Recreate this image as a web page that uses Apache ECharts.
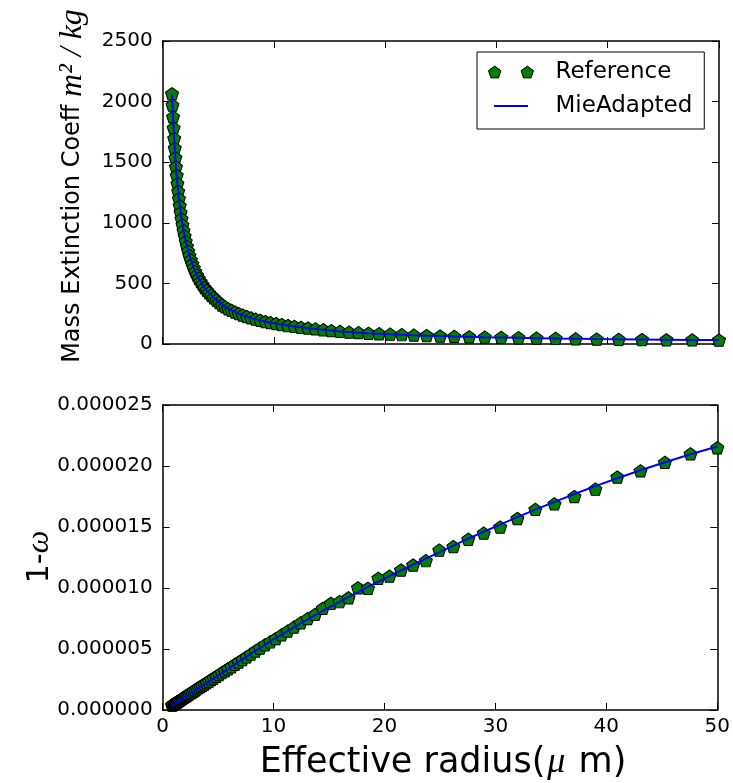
<!DOCTYPE html>
<html>
<head>
<meta charset="utf-8">
<script src="https://cdn.jsdelivr.net/npm/echarts@6/dist/echarts.min.js"></script>
<style>
  html, body { margin: 0; padding: 0; background: #fff; }
  #chart { width: 733px; height: 783px; }
</style>
</head>
<body>
<div id="chart"></div>
<script>
// effective radius (micron), shared by both panels
var radius = [0.85, 0.89, 0.94, 0.99, 1.04, 1.09, 1.15, 1.20, 1.27, 1.33,
    1.40, 1.47, 1.54, 1.62, 1.70, 1.79, 1.88, 1.98, 2.08, 2.19,
    2.30, 2.41, 2.54, 2.67, 2.80, 2.94, 3.09, 3.25, 3.42, 3.59,
    3.77, 3.97, 4.17, 4.38, 4.60, 4.84, 5.09, 5.34, 5.62, 5.90,
    6.20, 6.52, 6.85, 7.20, 7.57, 7.95, 8.36, 8.78, 9.23, 9.70,
    10.20, 10.72, 11.26, 11.84, 12.44, 13.07, 13.74, 14.44, 15.17, 15.95,
    16.76, 17.61, 18.51, 19.45, 20.45, 21.49, 22.58, 23.73, 24.94, 26.21,
    27.55, 28.95, 30.43, 31.98, 33.60, 35.32, 37.12, 39.01, 40.99, 43.08,
    45.28, 47.59, 50.00];

// mass extinction coeff (m2/kg)
var refExt = [2065, 1971, 1874, 1783, 1697, 1615, 1537, 1462, 1391, 1324,
    1260, 1199, 1141, 1085, 1033, 983, 935, 890, 847, 805,
    767, 729, 694, 660, 628, 598, 569, 541, 515, 490,
    466, 444, 422, 402, 382, 362, 342, 322, 306, 291,
    277, 264, 251, 239, 227, 216, 206, 196, 186, 177,
    169, 161, 153, 145, 138, 132, 125, 118, 111, 104,
    98, 94, 89, 85, 81, 77, 73, 70, 66, 63,
    60, 57, 55, 52, 49, 46, 43, 41, 39, 37,
    35, 34, 33];
var mieExt = [2060, 1968, 1872, 1781, 1695, 1613, 1535, 1461, 1390, 1323,
    1259, 1198, 1140, 1085, 1032, 982, 934, 889, 846, 805,
    766, 729, 693, 659, 627, 597, 568, 540, 514, 489,
    465, 443, 421, 401, 381, 362, 342, 323, 306, 291,
    277, 263, 250, 238, 226, 215, 205, 195, 185, 176,
    168, 160, 152, 145, 138, 131, 124, 118, 111, 104,
    98, 93, 88, 84, 80, 76, 72, 69, 65, 62,
    59, 56, 54, 51, 48, 45, 43, 41, 39, 37,
    35, 33, 32];

// 1 - single scattering albedo, in units of 1e-6
var coalbUnit = 1e-6;
var refCoalb = [0.40, 0.42, 0.45, 0.47, 0.50, 0.53, 0.57, 0.60, 0.64, 0.68,
    0.72, 0.76, 0.80, 0.85, 0.90, 0.96, 1.01, 1.07, 1.13, 1.19,
    1.26, 1.33, 1.40, 1.48, 1.56, 1.64, 1.73, 1.83, 1.92, 2.03,
    2.13, 2.25, 2.36, 2.49, 2.62, 2.76, 2.90, 3.06, 3.21, 3.38,
    3.55, 3.74, 3.93, 4.13, 4.35, 4.58, 4.84, 5.08, 5.34, 5.58,
    5.86, 6.16, 6.47, 6.80, 7.14, 7.49, 7.84, 8.34, 8.75, 8.88,
    9.20, 10.02, 9.98, 10.80, 10.98, 11.48, 11.89, 12.24, 13.10, 13.40,
    14.00, 14.50, 15.00, 15.70, 16.45, 16.90, 17.50, 18.10, 19.10, 19.60,
    20.30, 21.00, 21.50];
var mieCoalb = [0.37, 0.39, 0.42, 0.45, 0.48, 0.51, 0.55, 0.58, 0.62, 0.66,
    0.70, 0.74, 0.79, 0.84, 0.88, 0.94, 0.99, 1.05, 1.11, 1.17,
    1.24, 1.31, 1.38, 1.46, 1.54, 1.62, 1.71, 1.81, 1.90, 2.01,
    2.11, 2.23, 2.34, 2.47, 2.60, 2.73, 2.88, 3.02, 3.18, 3.34,
    3.55, 3.74, 3.94, 4.15, 4.37, 4.60, 4.84, 5.09, 5.35, 5.62,
    5.90, 6.18, 6.47, 6.78, 7.10, 7.43, 7.77, 8.12, 8.49, 8.87,
    9.26, 9.67, 10.09, 10.52, 10.97, 11.44, 11.92, 12.41, 12.92, 13.47,
    14.04, 14.61, 15.20, 15.81, 16.43, 17.06, 17.70, 18.35, 19.00, 19.65,
    20.31, 20.96, 21.60];

var extTicks = [0, 2500, 500];
var coalbTicks = [0, 0.000025, 0.000005];
var radiusTicks = [0, 50, 10];

var font = 'DejaVu Sans';
var mathFont = 'Liberation Serif';
var pentagon = 'path://M9.51,0 L19.02,6.91 L15.39,18.09 L3.63,18.09 L0,6.91 Z';
var pentagonPair = 'path://M9.51,0 L19.02,6.91 L15.39,18.09 L3.63,18.09 L0,6.91 Z ' +
    'M59.71,0 L69.22,6.91 L65.59,18.09 L53.83,18.09 L50.2,6.91 Z';
// 45x12 box, the blue stroke only 34 long in the middle
var shortLine = 'path://M0,0 M45,12 M5.5,5 L39.5,5 L39.5,7 L5.5,7 Z';

function pairs(xs, ys, scale) {
    return xs.map(function (x, i) { return [x, ys[i] * (scale || 1)]; });
}

var dom = document.getElementById('chart');
var myChart = echarts.init(dom);

var frameLine = { show: true, onZero: false, lineStyle: { color: '#000', width: 1.5 } };
var tick = { show: true, inside: true, length: 7, lineStyle: { color: '#000', width: 1 } };

function xAx(grid, pos, labels) {
    return {
        type: 'value', gridIndex: grid, position: pos,
        min: radiusTicks[0], max: radiusTicks[1], interval: radiusTicks[2],
        axisLine: frameLine, axisTick: tick, splitLine: { show: false },
        axisLabel: { show: labels, color: '#000', fontFamily: font, fontSize: 20, margin: 7 }
    };
}
function yAx(grid, pos, ticks, labels, fmt) {
    return {
        type: 'value', gridIndex: grid, position: pos,
        min: ticks[0], max: ticks[1], interval: ticks[2],
        axisLine: frameLine, axisTick: tick, splitLine: { show: false },
        axisLabel: { show: labels, color: '#000', fontFamily: font, fontSize: 20, margin: 10, formatter: fmt }
    };
}

var markerStyle = { color: '#007f00', borderColor: '#000', borderWidth: 1, opacity: 1 };

option = {
    animation: false,
    backgroundColor: '#fff',
    grid: [
        { left: 162.6, top: 41, width: 556.4, height: 303 },
        { left: 162.6, top: 405, width: 556.4, height: 305 }
    ],
    xAxis: [
        xAx(0, 'bottom', false),
        xAx(0, 'top', false),
        xAx(1, 'bottom', true),
        xAx(1, 'top', false)
    ],
    yAxis: [
        yAx(0, 'left', extTicks, true, function (v) { return String(v); }),
        yAx(0, 'right', extTicks, false),
        yAx(1, 'left', coalbTicks, true, function (v) { return v.toFixed(6); }),
        yAx(1, 'right', coalbTicks, false)
    ],
    legend: {
        orient: 'vertical',
        left: 477, top: 52,
        data: [
            { name: 'Reference', icon: pentagonPair, itemStyle: markerStyle },
            { name: 'MieAdapted', icon: shortLine, itemStyle: { color: '#0000ff', borderWidth: 0 } }
        ],
        itemWidth: 45, itemHeight: 12, itemGap: 6,
        padding: [6, 12, 9, 11],
        borderColor: '#000', borderWidth: 1, borderRadius: 0,
        backgroundColor: '#fff',
        textStyle: { fontFamily: font, fontSize: 23, color: '#000', lineHeight: 28, padding: [0, 0, 0, 17] }
    },
    graphic: [
        {
            type: 'text', x: 73, y: 186, rotation: Math.PI / 2,
            style: {
                text: '{a|Mass Extinction Coeff }{m|m²}{sl|/}{m|kg}',
                align: 'center', verticalAlign: 'middle',
                rich: {
                    a: { fontFamily: font, fontSize: 24, fill: '#000' },
                    m: { fontFamily: mathFont, fontStyle: 'italic', fontSize: 32, fill: '#000' },
                    sl: { fontFamily: mathFont, fontStyle: 'italic', fontSize: 32, fill: '#000', padding: [0, 8] }
                }
            }
        },
        {
            type: 'text', x: 40, y: 557, rotation: Math.PI / 2,
            style: {
                text: '{a|1-}{m|ω}',
                align: 'center', verticalAlign: 'middle',
                rich: {
                    a: { fontFamily: font, fontSize: 30, fill: '#000' },
                    m: { fontFamily: mathFont, fontStyle: 'italic', fontSize: 32, fill: '#000' }
                }
            }
        },
        {
            type: 'text', x: 443, y: 763,
            style: {
                text: '{a|Effective radius(}{m|μ}{a| m)}',
                align: 'center', verticalAlign: 'middle',
                rich: {
                    a: { fontFamily: font, fontSize: 35, fill: '#000' },
                    m: { fontFamily: mathFont, fontStyle: 'italic', fontSize: 36, fill: '#000', padding: [0, 2] }
                }
            }
        }
    ],
    series: [
        {
            name: 'Reference', type: 'scatter', xAxisIndex: 0, yAxisIndex: 0,
            data: pairs(radius, refExt),
            symbol: pentagon, symbolSize: [13, 12.4],
            itemStyle: markerStyle, z: 2
        },
        {
            name: 'MieAdapted', type: 'line', xAxisIndex: 0, yAxisIndex: 0,
            data: pairs(radius, mieExt),
            symbol: 'none', showSymbol: false,
            lineStyle: { color: '#0000ff', width: 2 }, itemStyle: { color: '#0000ff' }, z: 3
        },
        {
            name: 'Reference', type: 'scatter', xAxisIndex: 2, yAxisIndex: 2,
            data: pairs(radius, refCoalb, coalbUnit),
            symbol: pentagon, symbolSize: [13, 12.4],
            itemStyle: markerStyle, z: 2
        },
        {
            name: 'MieAdapted', type: 'line', xAxisIndex: 2, yAxisIndex: 2,
            data: pairs(radius, mieCoalb, coalbUnit),
            symbol: 'none', showSymbol: false,
            lineStyle: { color: '#0000ff', width: 2 }, itemStyle: { color: '#0000ff' }, z: 3
        }
    ]
};

if (option && typeof option === 'object') {
    myChart.setOption(option, true);
}
</script>
</body>
</html>
